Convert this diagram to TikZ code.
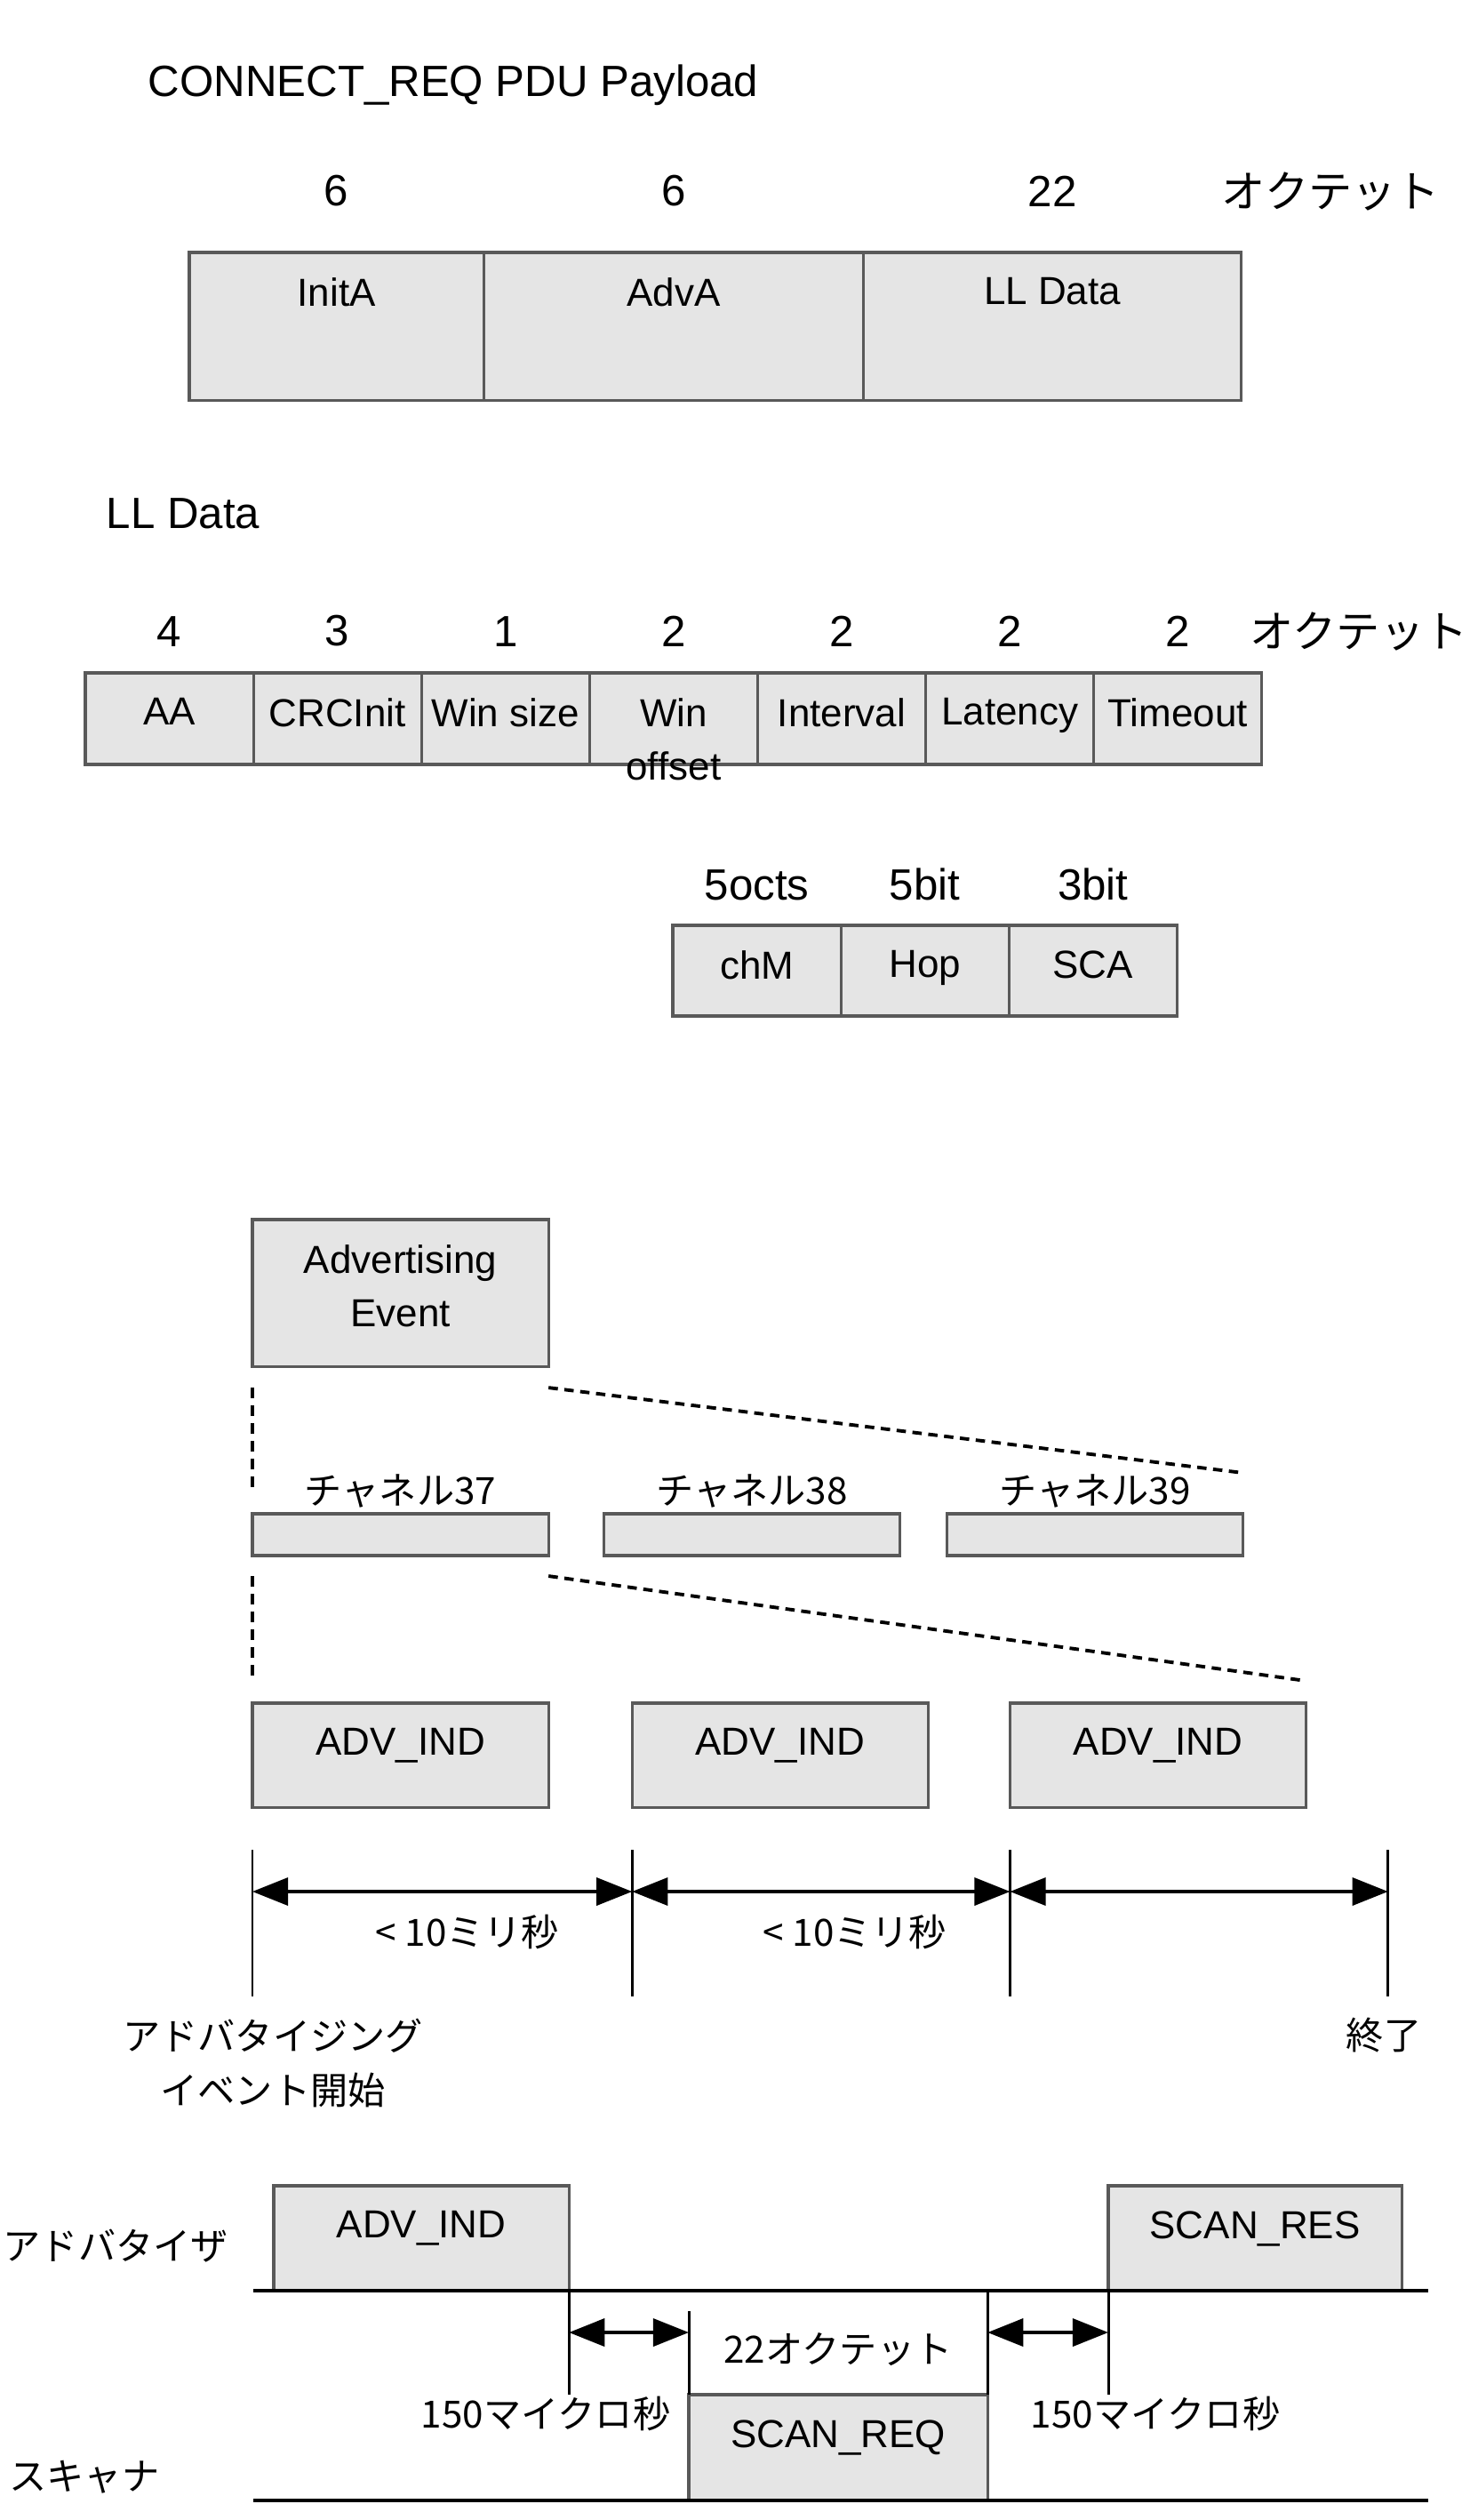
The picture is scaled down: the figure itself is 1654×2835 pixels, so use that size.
\documentclass[tikz,border=0pt]{standalone}
\usepackage{fontspec}
\setmainfont{Liberation Sans}
\newfontfamily\jpfont{Noto Sans CJK JP}
\usepackage{tikz}
\usetikzlibrary{arrows.meta, positioning}
\definecolor{cellfill}{HTML}{E5E5E5}
\definecolor{cellline}{HTML}{595959}

\begin{document}
\begin{tikzpicture}[>={Triangle[length=11.4pt,width=8.8pt]}, x=0.01cm, y=-0.01cm]
		\tikzset{
			cell/.style 2 args={draw=cellline, fill=cellfill, line width=0.9pt, rectangle, inner sep=0pt, outer sep=0pt, minimum width=#1, minimum height=#2},
			celltext/.style={anchor=north, inner sep=0pt, yshift=-0.28cm, align=center, font=\fontsize{12.5}{17}\selectfont},
			chtext/.style={anchor=south, inner sep=0pt, yshift=0.06cm, font=\jpfont\fontsize{12}{14}\selectfont},
			sizetext/.style={inner sep=0pt, font=\fontsize{14}{17}\selectfont},
			octtext/.style={inner sep=0pt, font=\jpfont\fontsize{14}{17}\selectfont},
			head/.style={inner sep=0pt, anchor=west, font=\fontsize{14}{17}\selectfont},
			jptext/.style={inner sep=0pt, align=center, font=\jpfont\fontsize{12}{17.6}\selectfont},
			guide/.style={line width=1.1pt, dash pattern=on 3.4pt off 2.3pt},
			zoomline/.style={line width=1.1pt, dash pattern=on 3pt off 2.1pt},
			tick/.style={line width=0.85pt},
			dim/.style={line width=1.1pt, <->},
			wire/.style={line width=1.3pt},
			thinwire/.style={line width=0.85pt},
		}
		\useasboundingbox (0,0) rectangle (1654,2835);

		%payload
		\node[head, anchor=base west] (title) at (166,108) {CONNECT\_REQ PDU Payload};
		\node[cell={3.31cm}{1.66cm}, anchor=north west, label={[celltext]north:InitA}] (inita) at (213,284) {};
		\node[cell={4.27cm}{1.66cm}, right=0pt of inita, label={[celltext]north:AdvA}] (adva) {};
		\node[cell={4.25cm}{1.66cm}, right=0pt of adva, label={[celltext]north:LL Data}] (lldata) {};
		\node[sizetext, above=0.51cm of inita] (szinita) {6};
		\node[sizetext, above=0.51cm of adva] (szadva) {6};
		\node[sizetext, above=0.51cm of lldata] (szlldata) {22};
		\node[octtext, right=1.62cm of szlldata] (octa) {オクテット};

		%ll data
		\node[head] (llhead) at (119,578) {LL Data};
		\node[cell={1.89cm}{1.03cm}, anchor=north west, label={[celltext]north:AA}] (aa) at (96,757) {};
		\node[cell={1.89cm}{1.03cm}, right=0pt of aa, label={[celltext]north:CRCInit}] (crcinit) {};
		\node[cell={1.89cm}{1.03cm}, right=0pt of crcinit, label={[celltext]north:Win size}] (winsize) {};
		\node[cell={1.89cm}{1.03cm}, right=0pt of winsize, label={[celltext]north:{Win\\offset}}] (winoffset) {};
		\node[cell={1.89cm}{1.03cm}, right=0pt of winoffset, label={[celltext]north:Interval}] (interval) {};
		\node[cell={1.89cm}{1.03cm}, right=0pt of interval, label={[celltext]north:Latency}] (latency) {};
		\node[cell={1.89cm}{1.03cm}, right=0pt of latency, label={[celltext]north:Timeout}] (timeout) {};
		\node[sizetext, above=0.29cm of aa] (szaa) {4};
		\node[sizetext, above=0.29cm of crcinit] (szcrcinit) {3};
		\node[sizetext, above=0.29cm of winsize] (szwinsize) {1};
		\node[sizetext, above=0.29cm of winoffset] (szwinoffset) {2};
		\node[sizetext, above=0.29cm of interval] (szinterval) {2};
		\node[sizetext, above=0.29cm of latency] (szlatency) {2};
		\node[sizetext, above=0.29cm of timeout] (sztimeout) {2};
		\node[octtext, right=0.66cm of sztimeout] (octb) {オクテット};

		%chM, Hop, SCA
		\node[cell={1.89cm}{1.02cm}, anchor=north west, label={[celltext]north:chM}] (chm) at (757,1041) {};
		\node[cell={1.89cm}{1.02cm}, right=0pt of chm, label={[celltext]north:Hop}] (hop) {};
		\node[cell={1.89cm}{1.02cm}, right=0pt of hop, label={[celltext]north:SCA}] (sca) {};
		\node[sizetext, above=0.27cm of chm] (szchm) {5octs};
		\node[sizetext, above=0.27cm of hop] (szhop) {5bit};
		\node[sizetext, above=0.27cm of sca] (szsca) {3bit};

		%advertising event
		\node[cell={3.33cm}{1.65cm}, anchor=north west, label={[celltext]north:{Advertising\\Event}}] (advevent) at (284,1372) {};
		\node[cell={3.33cm}{0.47cm}, anchor=north west, label={[chtext]north:チャネル37}] (ch37) at (284,1703) {};
		\node[cell={3.33cm}{0.47cm}, right=0.62cm of ch37, label={[chtext]north:チャネル38}] (ch38) {};
		\node[cell={3.33cm}{0.47cm}, right=0.53cm of ch38, label={[chtext]north:チャネル39}] (ch39) {};
		\node[cell={3.33cm}{1.17cm}, anchor=north west, label={[celltext]north:ADV\_IND}] (adv1) at (284,1916) {};
		\node[cell={3.33cm}{1.17cm}, right=0.94cm of adv1, label={[celltext]north:ADV\_IND}] (adv2) {};
		\node[cell={3.33cm}{1.17cm}, right=0.92cm of adv2, label={[celltext]north:ADV\_IND}] (adv3) {};

		\node [coordinate, below=0.24cm of advevent.south west] (g1a) {};
		\node [coordinate, above=0.26cm of ch37.north west] (g1b) {};
		\node [coordinate, below=0.24cm of advevent.south east] (z1a) {};
		\node [coordinate, above=0.46cm of ch39.north east] (z1b) {};
		\node [coordinate, below=0.23cm of ch37.south west] (g2a) {};
		\node [coordinate, above=0.27cm of adv1.north west] (g2b) {};
		\node [coordinate, below=0.23cm of ch37.south east] (z2a) {};
		\node [coordinate, above=0.25cm of adv3.north east] (z2b) {};
		\draw[guide] (g1a) -- (g1b) (g2a) -- (g2b);
		\draw[zoomline] (z1a) -- (z1b) (z2a) -- (z2b);

		%timeline
		\node [coordinate, below=0.48cm of adv1.south west] (t1) {};
		\node [coordinate, below=0.48cm of adv2.south west] (t2) {};
		\node [coordinate, below=0.48cm of adv3.south west] (t3) {};
		\node [coordinate, right=4.25cm of t3] (t4) {};
		\coordinate (tb) at (0,2246);
		\coordinate (ay) at (0,2128);
		\draw[tick] (t1) -- (t1 |- tb) (t2) -- (t2 |- tb) (t3) -- (t3 |- tb) (t4) -- (t4 |- tb);
		\draw[dim] (t1 |- ay) -- (t2 |- ay);
		\draw[dim] (t2 |- ay) -- (t3 |- ay);
		\draw[dim] (t3 |- ay) -- (t4 |- ay);
		\node[jptext] (lt1) at (526,2173) {< 10ミリ秒};
		\node[jptext] (lt2) at (962,2173) {< 10ミリ秒};
		\node[jptext] (tstart) at (307,2321) {アドバタイジング\\イベント開始};
		\node[jptext] (tend) at (1557,2290) {終了};

		%scan request / response
		\coordinate (advl) at (285,2577);
		\coordinate (advr) at (1607,2577);
		\coordinate (scnl) at (285,2813);
		\coordinate (scnr) at (1607,2813);
		\node[cell={3.32cm}{1.18cm}, anchor=south west, label={[celltext]north:ADV\_IND}] (advb) at (308,2577) {};
		\node[cell={3.30cm}{1.18cm}, anchor=south west, label={[celltext]north:SCAN\_RES}] (scanres) at (1247,2577) {};
		\node[cell={3.36cm}{1.19cm}, anchor=south west, label={[celltext]north:SCAN\_REQ}] (scanreq) at (775,2813) {};
		\draw[wire] (advl) -- (advr);
		\draw[wire] (scnl) -- (scnr);
		\coordinate (gt) at (0,2600);
		\coordinate (ay2) at (0,2624);
		\draw[thinwire] (advb.south east) -- (advb.south east |- scanreq.north)
			(scanreq.north west) -- (scanreq.north west |- gt)
			(scanreq.north east) -- (scanreq.north east |- advl)
			(scanres.south west) -- (scanres.south west |- scanreq.north);
		\draw[dim] (advb.south east |- ay2) -- (scanreq.north west |- ay2);
		\draw[dim] (scanreq.north east |- ay2) -- (scanres.south west |- ay2);
		\node[jptext] (oct22) at (943,2643) {22オクテット};
		\node[jptext] (ifs1) at (614,2715) {150マイクロ秒};
		\node[jptext] (ifs2) at (1300,2715) {150マイクロ秒};
		\node[jptext, anchor=west] (advlbl) at (3,2527) {アドバタイザ};
		\node[jptext] (scnlbl) at (95,2787) {スキャナ};
	\end{tikzpicture}
\end{document}
